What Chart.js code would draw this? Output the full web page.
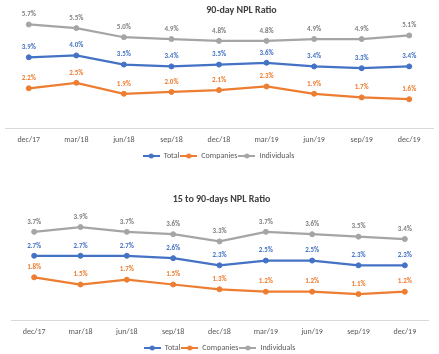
<!DOCTYPE html>
<html>
<head>
<meta charset="utf-8">
<script src="https://cdn.jsdelivr.net/npm/chart.js@4.4.1/dist/chart.umd.min.js"></script>
<style>
  html, body { margin: 0; padding: 0; background: #ffffff; }
  body { width: 439px; height: 354px; position: relative; overflow: hidden; font-family: Carlito, Lato, "Open Sans", sans-serif; }
  .box { position: absolute; left: 0; width: 439px; }
  .title { position: absolute; width: 439px; text-align: center; font-size: 10px; font-weight: bold; color: #404040; line-height: 12px; }
</style>
</head>
<body>
<div class="box" style="top:0px;height:170px;"><canvas id="c1" width="439" height="170"></canvas></div>
<div class="box" style="top:157px;height:205px;"><canvas id="c2" width="439" height="205"></canvas></div>
<div class="title" style="left:22px;top:4px;">90-day NPL Ratio</div>
<div class="title" style="left:2px;top:193px;">15 to 90-days NPL Ratio</div>
<script>
const categories = ['dec/17','mar/18','jun/18','sep/18','dec/18','mar/19','jun/19','sep/19','dec/19'];
const seriesNames = ['Total','Companies','Individuals'];

// 90-day NPL ratio (%)
const npl90Total       = [3.9, 4.0, 3.5, 3.4, 3.5, 3.6, 3.4, 3.3, 3.4];
const npl90Companies   = [2.2, 2.5, 1.9, 2.0, 2.1, 2.3, 1.9, 1.7, 1.6];
const npl90Individuals = [5.7, 5.5, 5.0, 4.9, 4.8, 4.8, 4.9, 4.9, 5.1];

// 15 to 90-days NPL ratio (%)
const npl15Total       = [2.7, 2.7, 2.7, 2.6, 2.3, 2.5, 2.5, 2.3, 2.3];
const npl15Companies   = [1.8, 1.5, 1.7, 1.5, 1.3, 1.2, 1.2, 1.1, 1.2];
const npl15Individuals = [3.7, 3.9, 3.7, 3.6, 3.3, 3.7, 3.6, 3.5, 3.4];

const colors = ['#4472C4', '#ED7D31', '#A5A5A5'];
const labelColors = ['#4472C4', '#ED7D31', '#7F7F7F'];
const FONT = 'Carlito, Lato, "Open Sans", sans-serif';

function legendIcon(color) {
  const c = document.createElement('canvas');
  c.width = 17; c.height = 6;
  const g = c.getContext('2d');
  g.strokeStyle = color; g.lineWidth = 2;
  g.beginPath(); g.moveTo(0, 3); g.lineTo(17, 3); g.stroke();
  g.fillStyle = color;
  g.beginPath(); g.arc(8.5, 3, 2.5, 0, Math.PI * 2); g.fill();
  return c;
}
const icons = colors.map(legendIcon);

const dataLabels = {
  id: 'dataLabels',
  afterDatasetsDraw(chart) {
    const ctx = chart.ctx;
    ctx.save();
    ctx.font = 'bold 7px ' + FONT;
    ctx.textAlign = 'center';
    ctx.textBaseline = 'middle';
    chart.data.datasets.forEach((ds, i) => {
      const meta = chart.getDatasetMeta(i);
      ctx.fillStyle = labelColors[i];
      meta.data.forEach((pt, j) => {
        ctx.fillText(ds.data[j].toFixed(1) + '%', pt.x, pt.y - 10);
      });
    });
    ctx.restore();
  }
};

function makeChart(id, seriesData, yMax, pad) {
  return new Chart(document.getElementById(id), {
    type: 'line',
    data: {
      labels: categories,
      datasets: seriesData.map((d, i) => ({
        label: seriesNames[i],
        data: d,
        borderColor: colors[i],
        backgroundColor: colors[i],
        pointBackgroundColor: colors[i],
        pointBorderColor: colors[i],
        borderWidth: 2.25,
        pointRadius: 2.5,
        pointBorderWidth: 1,
        tension: 0,
        fill: false
      }))
    },
    options: {
      responsive: false,
      animation: false,
      events: [],
      layout: { padding: pad },
      scales: {
        x: {
          offset: true,
          grid: { display: false, drawTicks: false },
          border: { display: true, color: '#D9D9D9', width: 1 },
          ticks: { color: '#595959', font: { size: 8, family: FONT }, padding: 6.5, maxRotation: 0, autoSkip: false }
        },
        y: { display: false, min: 0, max: yMax }
      },
      plugins: {
        title: { display: false },
        tooltip: { enabled: false },
        legend: {
          display: true,
          position: 'bottom',
          labels: {
            usePointStyle: true,
            pointStyleWidth: 17,
            boxHeight: 6,
            padding: 1,
            color: '#595959',
            font: { size: 8, family: FONT },
            generateLabels(chart) {
              return chart.data.datasets.map((ds, i) => ({
                text: ds.label,
                pointStyle: icons[i],
                fillStyle: colors[i],
                strokeStyle: colors[i],
                lineWidth: 0,
                fontColor: '#595959',
                hidden: false,
                datasetIndex: i
              }));
            }
          }
        }
      }
    },
    plugins: [dataLabels]
  });
}

const ch1 = makeChart('c1', [npl90Total, npl90Companies, npl90Individuals], 6, { left: 4, right: 6, top: 19, bottom: 0 });
const ch2 = makeChart('c2', [npl15Total, npl15Companies, npl15Individuals], 4.5, { left: 11, right: 11, top: 55.7, bottom: 0 });
</script>
</body>
</html>
